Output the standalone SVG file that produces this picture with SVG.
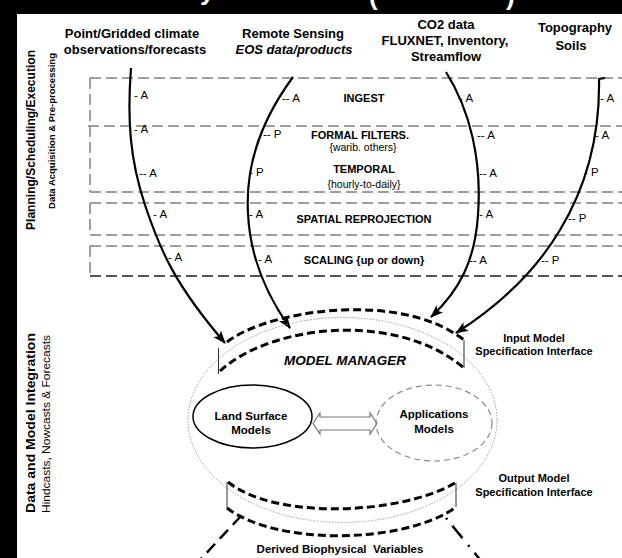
<svg xmlns="http://www.w3.org/2000/svg" width="622" height="558" viewBox="0 0 622 558">
<defs>
<style>
text{font-family:"Liberation Sans",Arial,sans-serif;fill:#000}
.hdr{font-size:13px;font-weight:bold;text-anchor:middle}
.band{font-size:11px;font-weight:bold;text-anchor:middle}
.sub{font-size:10.5px;text-anchor:middle}
.ap{font-size:11.5px}
.lbl{font-size:11px;font-weight:bold;text-anchor:middle}
.node{font-size:11.5px;font-weight:bold;text-anchor:middle}
.title{fill:#fff;font-size:26px;font-weight:bold}
.grid{fill:none;stroke:#808080;stroke-width:1.5;stroke-dasharray:11 5}
.flow{fill:none;stroke:#000;stroke-width:2.2;marker-end:url(#ah)}
.iface{fill:none;stroke:#000;stroke-width:3;stroke-dasharray:8 4}
.thin{fill:none;stroke:#333;stroke-width:1}
</style>
<marker id="ah" viewBox="0 0 13 10" refX="12" refY="5" markerWidth="13" markerHeight="10" markerUnits="userSpaceOnUse" orient="auto">
<path d="M0,0 L13,5 L0,10 L3,5 z" fill="#000"/>
</marker>
</defs>
<rect width="622" height="558" fill="#fff"/>
<rect x="0" y="0" width="622" height="14" fill="#000"/>
<rect x="0" y="0" width="17" height="558" fill="#000"/>
<text class="title" x="200" y="0">y</text>
<text class="title" x="369" y="4.5">(</text>
<text class="title" x="506" y="4.5">)</text>

<g id="side-labels">
<text transform="translate(35,140) rotate(-90)" font-size="12.5" font-weight="bold" text-anchor="middle" textLength="180" lengthAdjust="spacingAndGlyphs">Planning/Scheduling/Execution</text>
<text transform="translate(54.5,131) rotate(-90)" font-size="9.5" font-weight="bold" text-anchor="middle">Data Acquisition &amp; Pre-processing</text>
<text transform="translate(35,423) rotate(-90)" font-size="13.5" font-weight="bold" text-anchor="middle" textLength="180" lengthAdjust="spacingAndGlyphs">Data and Model Integration</text>
<text transform="translate(49.5,424) rotate(-90)" font-size="11.5" text-anchor="middle" textLength="178" lengthAdjust="spacingAndGlyphs">Hindcasts, Nowcasts &amp; Forecasts</text>
</g>

<g id="sources">
<g id="src-climate"><text class="hdr" x="132" y="38">Point/Gridded climate</text><text class="hdr" x="135" y="54">observations/forecasts</text></g>
<g id="src-rs"><text class="hdr" x="293" y="38">Remote Sensing</text><text class="hdr" x="294" y="54" font-style="italic">EOS data/products</text></g>
<g id="src-co2"><text class="hdr" x="446" y="29">CO2 data</text><text class="hdr" x="445" y="45">FLUXNET, Inventory,</text><text class="hdr" x="446" y="61">Streamflow</text></g>
<g id="src-topo"><text class="hdr" x="575" y="32">Topography</text><text class="hdr" x="571" y="50">Soils</text></g>
</g>

<g id="bands">
<path class="grid" d="M90,78 H622 M88,126 H622 M90,192 H622 M90,203 H622 M90,235 H622 M90,246 H622 M90,78 V192 M90,203 V235 M90,246 V276"/>
<path d="M90,276 H622" fill="none" stroke="#555" stroke-width="2" stroke-dasharray="11 5"/>
<g id="band-ingest"><text class="band" x="364" y="101.5">INGEST</text></g>
<g id="band-filters"><text class="band" x="360" y="138.5">FORMAL FILTERS.</text><text class="sub" x="363" y="151">{warib. others}</text></g>
<g id="band-temporal"><text class="band" x="364" y="173">TEMPORAL</text><text class="sub" x="364" y="188">{hourly-to-daily}</text></g>
<g id="band-spatial"><text class="band" x="364" y="223">SPATIAL REPROJECTION</text></g>
<g id="band-scaling"><text class="band" x="364" y="264">SCALING {up or down}</text></g>
</g>

<g id="connectors">
<path class="flow" d="M131,68 C127,120 130,160 145,205 C160,250 175,285 225,343"/>
<path class="flow" d="M293,77 C265,115 245,160 248,213 C250,260 270,300 290,328"/>
<path class="flow" d="M446,72 C470,110 482,160 478,215 C475,260 460,290 431,317"/>
<path class="flow" d="M605,78 L599,79 C600,130 590,180 560,230 C535,272 500,305 456,333"/>
<path d="M313,423.5 L320,413 L320,417 L370,417 L370,413 L377,423.5 L370,434 L370,430 L320,430 L320,434 Z" fill="#fff" stroke="#777" stroke-width="1.2"/>
<path d="M241,516 L198,562" fill="none" stroke="#000" stroke-width="2.5" stroke-dasharray="12 7"/>
<path d="M446,518 L482,562" fill="none" stroke="#000" stroke-width="2.5" stroke-dasharray="2 8 16 9"/>
</g>

<g id="flow-labels">
<text class="ap" x="134" y="99">- A</text>
<text class="ap" x="134" y="133">- A</text>
<text class="ap" x="139" y="177">-- A</text>
<text class="ap" x="153" y="218">- A</text>
<text class="ap" x="168" y="261">- A</text>
<text class="ap" x="282" y="102">-- A</text>
<text class="ap" x="263" y="138">-- P</text>
<text class="ap" x="249" y="176">- P</text>
<text class="ap" x="249" y="218">- A</text>
<text class="ap" x="258" y="263">- A</text>
<text class="ap" x="459" y="102">- A</text>
<text class="ap" x="477" y="139">-- A</text>
<text class="ap" x="479" y="177">-- A</text>
<text class="ap" x="479" y="218">- A</text>
<text class="ap" x="469" y="264">-- A</text>
<text class="ap" x="600" y="102">- A</text>
<text class="ap" x="595" y="139">- A</text>
<text class="ap" x="584" y="176">- P</text>
<text class="ap" x="568" y="222">-- P</text>
<text class="ap" x="541" y="264">-- P</text>
</g>

<g id="model-manager">
<ellipse cx="342.5" cy="420" rx="154.5" ry="102.5" fill="none" stroke="#999" stroke-width="1" stroke-dasharray="1.5 1.5"/>
<text x="345" y="365" font-size="13.5" font-weight="bold" font-style="italic" text-anchor="middle">MODEL MANAGER</text>
</g>

<g id="input-interface">
<path class="iface" d="M227,342 C268,310 400,290 464,340"/>
<path class="iface" d="M220,371 C270,325 395,310 464,368"/>
<path class="thin" d="M218.5,348 V374 M464,340 V368"/>
<text class="lbl" x="534" y="342">Input Model</text>
<text class="lbl" x="534" y="355">Specification Interface</text>
</g>

<g id="land-surface">
<ellipse cx="252.5" cy="416.5" rx="59.5" ry="31.5" fill="none" stroke="#000" stroke-width="1.5"/>
<text class="node" x="251" y="420">Land Surface</text>
<text class="node" x="251" y="434">Models</text>
</g>

<g id="applications">
<ellipse cx="434" cy="423" rx="58" ry="38" fill="none" stroke="#888" stroke-width="1.2" stroke-dasharray="6 4"/>
<text class="node" x="434" y="418">Applications</text>
<text class="node" x="434" y="433">Models</text>
</g>

<g id="output-interface">
<path class="iface" d="M228,482 C275,520 400,515 455,483"/>
<path class="iface" d="M227,508 C275,545 400,545 455,508"/>
<path class="thin" d="M227,482 V508 M456,483 V507"/>
<text class="lbl" x="534" y="482">Output Model</text>
<text class="lbl" x="534" y="496">Specification Interface</text>
</g>

<g id="derived">
<text x="340" y="553" font-size="11.5" font-weight="bold" text-anchor="middle" xml:space="preserve">Derived Biophysical  Variables</text>
</g>
</svg>
